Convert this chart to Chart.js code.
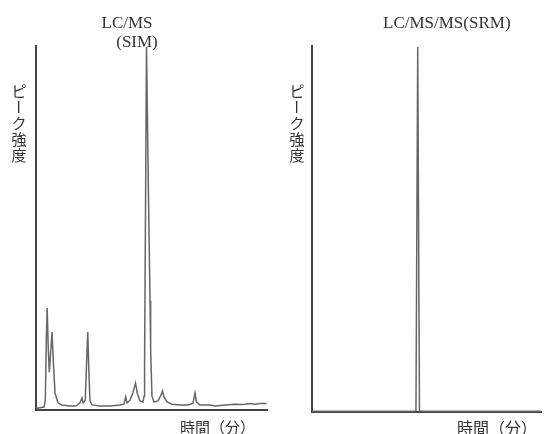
<!DOCTYPE html>
<html><head><meta charset="utf-8">
<script src="https://cdn.jsdelivr.net/npm/chart.js@4"></script>
<style>
html,body{margin:0;padding:0;background:#fff;}
#wrap{position:relative;width:547px;height:434px;}
canvas{position:absolute;left:0;top:0;}
</style></head>
<body><div id="wrap"><canvas id="c1" width="547" height="434"></canvas><canvas id="c2" width="547" height="434"></canvas></div>
<script>
// ---- data ----
const simTime = [0,0.13,1.04,1.21,1.34,1.45,1.60,1.73,1.88,2.08,2.27,2.47,2.86,3.38,4.42,5.19,5.71,5.97,6.13,6.40,6.56,6.72,6.86,7.01,7.27,8.31,9.61,10.91,11.43,11.65,11.82,12.21,12.60,12.92,13.18,13.51,13.90,14.03,14.10,14.35,14.60,14.81,14.89,15.06,15.32,15.84,16.23,16.43,16.62,17.01,17.66,18.70,19.74,20.39,20.65,20.84,21.30,22.60,23.25,24.55,25.84,26.49,27.14,27.79,28.44,29.09,29.94];
const simIntensity = [0.5,0.5,0.8,2.7,19.2,28.0,16.5,10.4,15.1,21.4,12.4,4.7,1.9,1.4,1.1,1.1,1.9,3.3,1.9,2.7,12.4,21.4,11.0,2.5,1.4,1.1,1.1,1.4,1.6,3.6,1.9,2.7,4.9,7.4,4.4,2.5,2.2,3.8,12.0,99.7,60.0,30.0,16.5,3.8,2.2,2.5,4.1,5.2,3.6,2.2,1.6,1.4,1.4,1.9,4.7,2.2,1.4,1.4,1.1,1.4,1.6,1.5,1.6,1.8,1.6,1.8,1.8];
const srmTime = [0,13.2,13.62,13.85,14.08,14.5,30];
const srmIntensity = [0.2,0.2,0.3,99.7,0.3,0.2,0.2];
const titleSIM = ["LC/MS","(SIM)"];
const titleSRM = "LC/MS/MS(SRM)";
const yLabel = "ピーク強度";
const xLabel = "時間（分）";

function pts(xs, ys){ return xs.map((x,i)=>({x:x,y:ys[i]})); }

const latin = '17px "Liberation Serif", "DejaVu Serif", serif';
const cjk = '15px "Noto Sans CJK JP", sans-serif';

function drawVertical(ctx, text, cx, top, step){
  ctx.save();
  ctx.font = cjk; ctx.fillStyle = '#333'; ctx.textAlign='center'; ctx.textBaseline='middle';
  [...text].forEach((ch,i)=>{
    const cy = top + step*i + step/2;
    if(ch==='ー'){ ctx.save(); ctx.translate(cx,cy); ctx.rotate(Math.PI/2); ctx.fillText(ch,0,0); ctx.restore(); }
    else ctx.fillText(ch,cx,cy);
  });
  ctx.restore();
}

const labels1 = {id:'labels1', afterDraw(chart){
  const ctx = chart.ctx; ctx.save();
  ctx.fillStyle='#333'; ctx.font=latin; ctx.textBaseline='alphabetic'; ctx.textAlign='center';
  ctx.fillText(titleSIM[0],127,28);
  ctx.fillText(titleSIM[1],137,47);
  ctx.font=cjk; ctx.textAlign='left'; ctx.textBaseline='middle';
  ctx.fillText(xLabel,180,427);
  ctx.restore();
  drawVertical(ctx,yLabel,19,83,16);
}};
const labels2 = {id:'labels2', afterDraw(chart){
  const ctx = chart.ctx; ctx.save();
  ctx.fillStyle='#333'; ctx.font=latin; ctx.textBaseline='alphabetic'; ctx.textAlign='left';
  ctx.fillText(titleSRM,383,28);
  ctx.font='16px "Noto Sans CJK JP", sans-serif'; ctx.textAlign='left'; ctx.textBaseline='middle';
  ctx.fillText(xLabel,457,428);
  ctx.restore();
  drawVertical(ctx,yLabel,297,83,16);
}};

function makeOpts(pad){
  const axis = (min,max)=>({type:'linear',min:min,max:max,
    ticks:{display:false}, grid:{display:false,drawTicks:false},
    border:{display:true,color:'#444',width:2}, title:{display:false}});
  return {
    responsive:false, animation:false,
    layout:{padding:pad},
    plugins:{legend:{display:false},tooltip:{enabled:false},title:{display:false}},
    elements:{point:{radius:0},line:{tension:0}},
    scales:{x:axis(0,30), y:axis(0,100)}
  };
}

new Chart(document.getElementById('c1'),{
  type:'line',
  data:{datasets:[{data:pts(simTime,simIntensity),borderColor:'#666',borderWidth:1.5,fill:false,clip:false}]},
  options:makeOpts({left:36,right:280,top:46,bottom:24}),
  plugins:[labels1]
});
new Chart(document.getElementById('c2'),{
  type:'line',
  data:{datasets:[{data:pts(srmTime,srmIntensity),borderColor:'#666',borderWidth:1.5,fill:false,clip:false}]},
  options:makeOpts({left:312,right:6,top:46,bottom:22}),
  plugins:[labels2]
});
</script></body></html>
